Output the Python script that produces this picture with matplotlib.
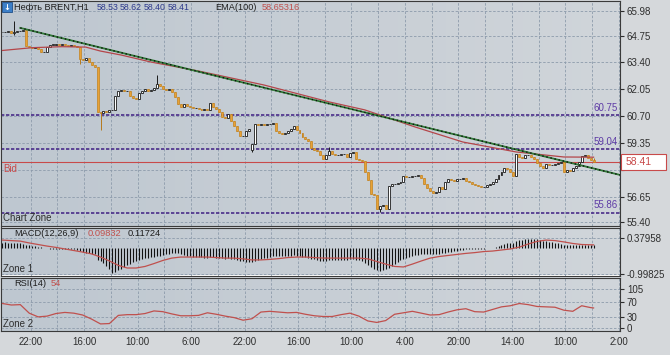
import numpy as np
import matplotlib
matplotlib.use("Agg")
import matplotlib.pyplot as plt
from matplotlib.patches import Rectangle
from matplotlib.colors import LinearSegmentedColormap

plt.rcParams['font.family'] = ['Liberation Sans', 'DejaVu Sans']

# Brent H1 closes, open = previous close unless listed in open_gaps
first_open = 64.93
closes = [
    64.93, 64.93, 64.98, 64.88, 64.93, 64.98, 64.98, 65.03, 64.23, 64.18,
    64.13, 64.18, 64.08, 63.92, 63.92, 64.18, 64.28, 64.28, 64.33, 64.28,
    64.33, 64.28, 64.23, 64.28, 64.23, 64.18, 63.57, 63.52, 63.62, 63.42,
    63.27, 63.17, 60.92, 60.87, 60.97, 60.92, 61.02, 61.02, 61.72, 61.97,
    62.02, 61.97, 61.97, 61.72, 61.62, 61.57, 61.87, 61.97, 62.07, 61.97,
    62.02, 62.12, 62.32, 62.22, 62.07, 62.02, 62.07, 61.92, 61.67, 61.32,
    61.17, 61.32, 61.22, 61.17, 61.12, 61.12, 61.07, 61.02, 61.07, 61.02,
    61.37, 61.17, 61.07, 60.92, 60.67, 60.61, 60.82, 60.46, 60.21, 59.96,
    59.71, 59.71, 59.96, 60.06, 59.31, 60.31, 60.26, 60.31, 60.26, 60.31,
    60.31, 60.36, 59.96, 59.86, 59.81, 59.86, 59.96, 60.06, 60.21, 60.01,
    59.86, 59.66, 59.56, 59.46, 59.11, 59.01, 58.96, 58.76, 58.56, 58.76,
    58.96, 58.81, 58.76, 58.76, 58.81, 58.81, 58.66, 58.86, 58.91, 58.56,
    58.51, 58.46, 57.91, 57.51, 56.80, 56.75, 56.05, 56.20, 56.25, 56.05,
    57.20, 57.30, 57.30, 57.35, 57.40, 57.71, 57.66, 57.66, 57.71, 57.71,
    57.76, 57.61, 57.30, 57.10, 56.95, 56.85, 56.90, 57.15, 57.05, 57.40,
    57.56, 57.51, 57.46, 57.56, 57.56, 57.61, 57.46, 57.41, 57.30, 57.25,
    57.20, 57.15, 57.15, 57.25, 57.30, 57.41, 57.56, 57.76, 57.91, 58.11,
    58.06, 57.91, 57.71, 58.81, 58.66, 58.61, 58.76, 58.76, 58.66, 58.56,
    58.36, 58.21, 58.11, 58.31, 58.26, 58.26, 58.31, 58.36, 58.41, 57.91,
    58.01, 57.96, 58.11, 58.21, 58.41, 58.71, 58.76, 58.61, 58.53, 58.41,
]
open_gaps = {84: 59.01}
wick_highs = {4: 65.48, 52: 62.77, 110: 59.16, 199: 58.62}
wick_lows = {4: 64.78, 26: 63.32, 33: 60.02, 84: 58.91, 127: 55.90, 199: 58.40}

# EMA(100) read at a few bars
ema_bars = [0, 10, 20, 28, 33, 40, 50, 66, 88, 110, 122, 139, 155, 173, 189, 199]
ema_vals = [64.00, 64.14, 64.19, 64.17, 63.97, 63.77, 63.42, 62.97, 62.27,
            61.42, 61.02, 60.16, 59.41, 58.91, 58.66, 58.65]

# trend line and horizontal levels
trend_bars = [6, 207.9]
trend_prices = [65.13, 57.76]
levels = [60.75, 59.04, 55.86]
bid = 58.41
price_ticks = [65.98, 64.75, 63.40, 62.05, 60.70, 59.35, 58.00, 56.65, 55.40]

# MACD(12,26,9): histogram per bar, signal every 3rd bar
macd_hist = [
    0.20, 0.21, 0.20, 0.19, 0.18, 0.18, 0.17,
    0.15, 0.12, 0.10, 0.08, 0.06,
    0.04, 0.02, 0.00, -0.02, -0.03, -0.03, -0.04, -0.04, -0.04, -0.05, -0.05, -0.06, -0.06,
    -0.08, -0.12, -0.15,
    -0.18, -0.20, -0.22, -0.25,
    -0.45, -0.52, -0.58,
    -0.68, -0.82, -0.95, -0.92, -0.86, -0.80, -0.74,
    -0.66, -0.60, -0.55, -0.50, -0.46,
    -0.42, -0.40, -0.38, -0.36, -0.33, -0.30, -0.30, -0.28,
    -0.25, -0.22, -0.20, -0.18, -0.20, -0.24, -0.28,
    -0.30, -0.32, -0.33, -0.34, -0.35, -0.36, -0.37, -0.37, -0.36, -0.36,
    -0.37, -0.38, -0.40, -0.41, -0.40, -0.42, -0.44, -0.47, -0.50, -0.52,
    -0.53, -0.54, -0.55, -0.52, -0.47, -0.43,
    -0.40, -0.37, -0.34, -0.31, -0.30, -0.30, -0.31, -0.31, -0.30, -0.30, -0.29, -0.30,
    -0.32, -0.34, -0.36, -0.38, -0.41, -0.44, -0.46, -0.49, -0.50, -0.49, -0.48, -0.47,
    -0.47, -0.46, -0.46, -0.46, -0.45, -0.44, -0.44, -0.46, -0.48, -0.50, -0.56,
    -0.64, -0.74, -0.82, -0.86, -0.88,
    -0.86, -0.82, -0.76, -0.68,
    -0.60, -0.54, -0.48, -0.43, -0.39,
    -0.35, -0.31, -0.28, -0.26, -0.24, -0.24, -0.24,
    -0.24, -0.25, -0.25, -0.24, -0.21, -0.18, -0.16, -0.14, -0.12, -0.10, -0.08, -0.07, -0.06,
    -0.05, -0.05, -0.04, -0.04, -0.03, -0.03, -0.02, -0.01, 0.01, 0.03,
    0.08, 0.12, 0.16,
    0.18, 0.19, 0.18, 0.26, 0.30, 0.32, 0.33,
    0.35, 0.35, 0.34, 0.33, 0.31,
    0.28, 0.26, 0.24, 0.22, 0.20, 0.18, 0.16,
    0.13, 0.12, 0.11, 0.10, 0.10, 0.10, 0.11, 0.11, 0.10, 0.10, 0.098,
]
macd_signal = [
    0.30, 0.28, 0.26, 0.19, 0.13, 0.07, 0.02, -0.04, -0.10, -0.16,
    -0.23, -0.35, -0.50, -0.67, -0.77, -0.77, -0.71, -0.60, -0.48, -0.39,
    -0.35, -0.35, -0.35, -0.35, -0.37, -0.39, -0.39, -0.42, -0.46, -0.46,
    -0.44, -0.41, -0.37, -0.35, -0.35, -0.37, -0.39, -0.39, -0.39, -0.39,
    -0.39, -0.42, -0.52, -0.62, -0.71, -0.73, -0.62, -0.50, -0.39, -0.33,
    -0.29, -0.25, -0.21, -0.18, -0.14, -0.12, -0.08, -0.04, 0.03, 0.15,
    0.25, 0.30, 0.28, 0.23, 0.17, 0.13, 0.12, 0.117,
]
# RSI(14) every 3rd bar
rsi_vals = [
    66, 62, 63, 40, 30, 32, 39, 42, 40, 35,
    24, 11, 12, 34, 36, 36, 39, 46, 44, 38,
    33, 33, 34, 41, 37, 32, 28, 21, 25, 43,
    45, 43, 41, 42, 37, 33, 31, 31, 36, 40,
    32, 19, 15, 20, 37, 41, 45, 40, 35, 36,
    43, 49, 52, 44, 43, 50, 57, 60, 66, 63,
    58, 57, 56, 48, 45, 60, 55, 54,
]
time_labels = ['22:00', '16:00', '10:00', '6:00', '22:00', '16:00',
               '10:00', '4:00', '20:00', '14:00', '10:00', '2:00']

W, H = 670, 355
fig = plt.figure(figsize=(W / 100, H / 100), dpi=100, facecolor='#D5D8DB')


def px_axes(x0, y0, x1, y1):
    return fig.add_axes([x0 / W, 1 - y1 / H, (x1 - x0) / W, (y1 - y0) / H])


ax = px_axes(1, 1, 620, 226)
ax_macd = px_axes(1, 227.5, 620, 275.5)
ax_rsi = px_axes(1, 278, 620, 331)

bg = LinearSegmentedColormap.from_list('bg', ['#BEC7D0', '#D0D5DA'])
grid_x = np.arange(9.5, 208, 9)
grid_kw = dict(color='#8D9BAB', lw=0.6, dashes=(3, 2))
txt_col = '#2E2E2E'

for a, ylim in ((ax, (55.20, 66.48)), (ax_macd, (-1.057, 0.782)), (ax_rsi, (-8.1, 134.8))):
    a.imshow(np.linspace(0, 1, 64).reshape(1, -1), cmap=bg, extent=[0, 1, 0, 1],
             transform=a.transAxes, aspect='auto', zorder=0)
    a.set_xlim(-0.5, 207.9)
    a.set_ylim(*ylim)
    a.set_xticks(grid_x)
    a.grid(True, **grid_kw)
    a.set_axisbelow(True)
    a.yaxis.tick_right()
    a.tick_params(axis='y', direction='out', length=3, pad=2, labelsize=7,
                  colors=txt_col)
    a.tick_params(axis='x', length=0, labelbottom=False)
    for s in a.spines.values():
        s.set_color('#3A3A3A')
        s.set_linewidth(0.8)

# ---- main price panel
idx = np.arange(len(closes))
c = np.array(closes)
o = np.array([first_open] + closes[:-1])
for k, v in open_gaps.items():
    o[k] = v
hi = np.maximum(o, c)
lo = np.minimum(o, c)
for k, v in wick_highs.items():
    hi[k] = v
for k, v in wick_lows.items():
    lo[k] = v
up = c >= o
body_lo = np.minimum(o, c)
body_h = np.maximum(np.abs(c - o), 0.02)

ax.vlines(idx[up], lo[up], hi[up], color='#1A1A1A', lw=0.7, zorder=3)
ax.vlines(idx[~up], lo[~up], hi[~up], color='#B5791C', lw=0.7, zorder=3)
ax.bar(idx[up], body_h[up], bottom=body_lo[up], width=0.66, color='white',
       edgecolor='#1A1A1A', lw=0.6, zorder=3)
ax.bar(idx[~up], body_h[~up], bottom=body_lo[~up], width=0.66, color='#E8A236',
       edgecolor='#C2821F', lw=0.5, zorder=3)

ax.plot(ema_bars, ema_vals, color='#B4464A', lw=0.9, zorder=4)
ax.plot(trend_bars, trend_prices, color='#2F7A36', lw=1.3, zorder=5)
ax.plot(trend_bars, trend_prices, color='#111111', lw=1.0, ls=(0, (1, 2)), zorder=5)

lvl_tr = ax.get_yaxis_transform()
for lv in levels:
    ax.axhline(lv, color='#4A2D8A', lw=1.2, ls=(0, (2, 1)), zorder=2)
    ax.text(0.997, lv + 0.12, f'{lv:.2f}', transform=lvl_tr, ha='right', va='bottom',
            fontsize=7, color='#5E3CA6')
ax.axhline(bid, color='#C84A4A', lw=0.8, zorder=2)
ax.text(0.004, bid - 0.12, 'Bid', transform=lvl_tr, ha='left', va='top',
        fontsize=7, color='#C84A4A')
ax.text(0.004, 0.015, 'Chart Zone', transform=ax.transAxes, ha='left', va='bottom',
        fontsize=7, color=txt_col)

ax.set_yticks(price_ticks)
ax.set_yticklabels([f'{p:.2f}' if p != 58.00 else '' for p in price_ticks])
# bid price box on the right of the price axis
ax.add_patch(Rectangle((1.002, bid - 0.40), 0.073, 0.80, transform=lvl_tr,
                       facecolor='white', edgecolor='#C84A4A', lw=0.8,
                       clip_on=False, zorder=6))
ax.text(1.009, bid, f'{bid:.2f}', transform=lvl_tr, ha='left', va='center',
        fontsize=7.5, color='#C84A4A', zorder=7, clip_on=False)

# ---- MACD panel
ax_macd.vlines(np.arange(len(macd_hist)), 0, macd_hist, color='#111111', lw=0.8, zorder=3)
sig_bars = list(range(0, 199, 3)) + [199]
ax_macd.plot(sig_bars, macd_signal, color='#C0504D', lw=0.9, zorder=4)
ax_macd.set_yticks([0.37958, -0.99825])
ax_macd.set_yticklabels(['0.37958', '-0.99825'])
ax_macd.text(0.004, 0.04, 'Zone 1', transform=ax_macd.transAxes, ha='left',
             va='bottom', fontsize=7, color=txt_col)

# ---- RSI panel
ax_rsi.plot(sig_bars, rsi_vals, color='#C0504D', lw=0.9, zorder=4)
ax_rsi.set_yticks([105, 70, 30, 0])
ax_rsi.set_yticklabels(['105', '70', '30', '0'])
ax_rsi.text(0.004, 0.04, 'Zone 2', transform=ax_rsi.transAxes, ha='left',
            va='bottom', fontsize=7, color=txt_col)
ax_rsi.tick_params(axis='x', labelbottom=True, labelsize=7, colors=txt_col, pad=4)
ax_rsi.set_xticklabels([time_labels[i // 2] if i % 2 == 0 else ''
                        for i in range(len(grid_x))])


# ---- header texts
def ftext(x, y, s, color, size=6.3):
    fig.text(x / W, 1 - y / H, s, color=color, fontsize=size, ha='left', va='center')


fig.patches.append(Rectangle((2 / W, 1 - 12 / H), 10 / W, 10 / H, transform=fig.transFigure,
                             facecolor='#3C7FC8', edgecolor='#1E4F8A', lw=0.6))
fig.text(7 / W, 1 - 7 / H, '↓', color='white', fontsize=6, ha='center', va='center',
         fontweight='bold', family=['DejaVu Sans'])
ftext(14, 7, 'Нефть BRENT,H1', '#1E1E1E', 6.6)
for xp, val in zip([97, 120, 144, 168], ['58.53', '58.62', '58.40', '58.41']):
    ftext(xp, 7, val, '#2E3A8C')
ftext(215, 7, 'EMA(100)', '#1E1E1E', 6.6)
ftext(262, 7, '58.65316', '#C0504D', 6.6)

ftext(14, 233, 'MACD(12,26,9)', '#1E1E1E', 6.7)
ftext(88, 233, '0.09832', '#C0504D', 6.7)
ftext(128, 233, '0.11724', '#1E1E1E', 6.7)
ftext(14, 284, 'RSI(14)', '#1E1E1E', 6.7)
ftext(51, 284, '54', '#C0504D', 6.7)

fig.savefig('out.png', dpi=100, facecolor=fig.get_facecolor())
